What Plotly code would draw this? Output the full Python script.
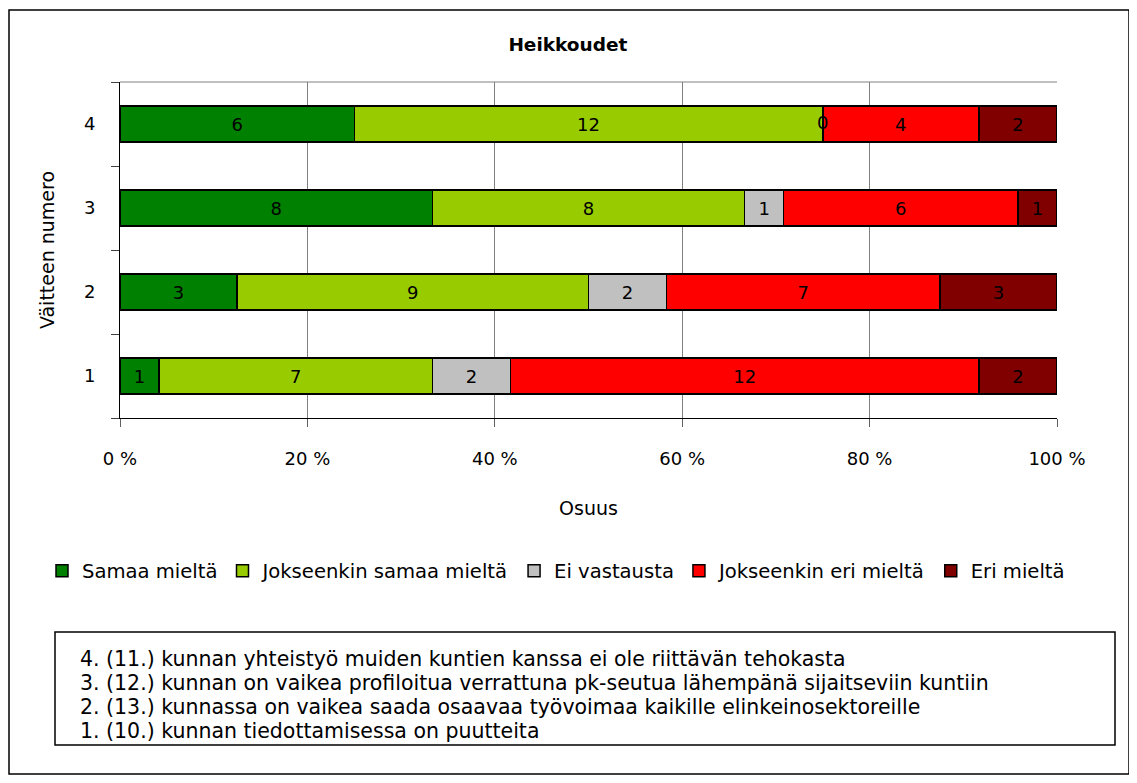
import plotly.graph_objects as go

# Statement numbers (y categories) and answer counts per response class
statements = ["1", "2", "3", "4"]
series_names = [
    "Samaa mieltä",
    "Jokseenkin samaa mieltä",
    "Ei vastausta",
    "Jokseenkin eri mieltä",
    "Eri mieltä",
]
samaa      = [1, 3, 8, 6]
jokseenkin = [7, 9, 8, 12]
ei_vast    = [2, 2, 1, 0]
jok_eri    = [12, 7, 6, 4]
eri        = [2, 3, 1, 2]
x_ticks = [0, 20, 40, 60, 80, 100]
x_tick_labels = ["0 %", "20 %", "40 %", "60 %", "80 %", "100 %"]

statement_texts = [
    "4. (11.) kunnan yhteistyö muiden kuntien kanssa ei ole riittävän tehokasta",
    "3. (12.) kunnan on vaikea profiloitua verrattuna pk-seutua lähempänä sijaitseviin kuntiin",
    "2. (13.) kunnassa on vaikea saada osaavaa työvoimaa kaikille elinkeinosektoreille",
    "1. (10.) kunnan tiedottamisessa on puutteita",
]

COLORS = ["#008000", "#99CC00", "#C0C0C0", "#FF0000", "#800000"]
FONT = "DejaVu Sans"

all_series = [samaa, jokseenkin, ei_vast, jok_eri, eri]

fig = go.Figure()
for name, vals, color in zip(series_names, all_series, COLORS):
    fig.add_trace(go.Bar(
        y            = statements,
        x            = vals,
        orientation  = "h",
        name         = name,
        text         = [str(v) for v in vals],
        textposition = "inside",
        insidetextanchor = "middle",
        textfont     = dict(family=FONT, size=18, color="black"),
        marker       = dict(color=color, line=dict(color="black", width=1.5)),
        hoverinfo    = "skip",
    ))

# zero-size segments still carry a "0" label at their (empty) position
zero_x, zero_y = [], []
for i, cat in enumerate(statements):
    total = sum(s[i] for s in all_series)
    cum = 0
    for s in all_series:
        if s[i] == 0:
            zero_x.append(100.0 * cum / total)
            zero_y.append(cat)
        cum += s[i]
fig.add_trace(go.Scatter(
    x=zero_x, y=zero_y, mode="text", text=["0"] * len(zero_x),
    textfont=dict(family=FONT, size=18, color="black"),
    showlegend=False, hoverinfo="skip",
))

# the page body has an 8px margin; positions below are page pixels
OFF = 8
W, H = 1137 - 2 * OFF, 783 - 2 * OFF
P_L, P_R, P_T, P_B = 120, 1057, 82, 418          # plot area on the page
L, T = P_L - OFF, P_T - OFF
pw, ph = P_R - P_L, P_B - P_T
R, B = W - L - pw, H - T - ph

def px(x):
    return (x - P_L) / pw

def py(y):
    return (P_B - y) / ph

fig.update_layout(
    width=W, height=H,
    margin=dict(l=L, r=R, t=T, b=B),
    barmode="stack",
    barnorm="percent",
    bargap=0.57,
    paper_bgcolor="white",
    plot_bgcolor="white",
    font=dict(family=FONT, size=18, color="black"),
    uniformtext=dict(minsize=18, mode="show"),
    showlegend=True,
    # anchored left of the plot area so the single row may use the left margin
    legend=dict(
        orientation="h", x=px(42), xanchor="left",
        y=py(571), yanchor="middle",
        font=dict(family=FONT, size=19.6), traceorder="normal",
        itemwidth=30, tracegroupgap=0,
    ),
    xaxis=dict(
        range=[0, 100], tickvals=x_ticks, ticktext=x_tick_labels,
        showgrid=True, gridcolor="#808080", gridwidth=1,
        showline=True, linecolor="black", linewidth=1,
        ticks="outside", ticklen=8, tickcolor="#606060",
        ticklabelstandoff=16, tickfont=dict(size=18),
        title=dict(text="Osuus", standoff=34, font=dict(size=19)),
        zeroline=False, fixedrange=True,
    ),
    yaxis=dict(
        type="category", categoryorder="array", categoryarray=statements,
        range=[-0.5, 3.5], tickson="boundaries",
        showgrid=False, showline=True, linecolor="black", linewidth=1,
        ticks="outside", ticklen=8, tickcolor="#404040",
        ticklabelstandoff=20, tickfont=dict(size=18),
        title=dict(text="Väitteen numero", standoff=24, font=dict(size=19)),
    ),
    title=dict(
        text="<b>Heikkoudet</b>", x=px(588), xanchor="center",
        y=1 - (45 - OFF) / H, yanchor="middle", font=dict(family=FONT, size=18.5),
    ),
)

# plot area top edge (gray, like the gridlines)
fig.add_shape(type="line", xref="paper", yref="paper", x0=0, x1=1, y0=1, y1=1,
              line=dict(color="#808080", width=1))
# outer chart border
fig.add_shape(type="rect", xref="paper", yref="paper",
              x0=px(9), x1=px(1129), y0=py(774), y1=py(10),
              line=dict(color="black", width=1.5), layer="below")
# explanation box below the legend, one line of text per statement
fig.add_shape(type="rect", xref="paper", yref="paper",
              x0=px(55), x1=px(1115), y0=py(745), y1=py(632),
              line=dict(color="black", width=1.5), layer="below")
for k, line in enumerate(statement_texts):
    fig.add_annotation(
        xref="paper", yref="paper", x=px(78), y=py(659 + 24 * k),
        xanchor="left", yanchor="middle", text=line, align="left",
        showarrow=False, font=dict(family=FONT, size=20.5, color="black"),
    )

fig.write_html("out.html")
